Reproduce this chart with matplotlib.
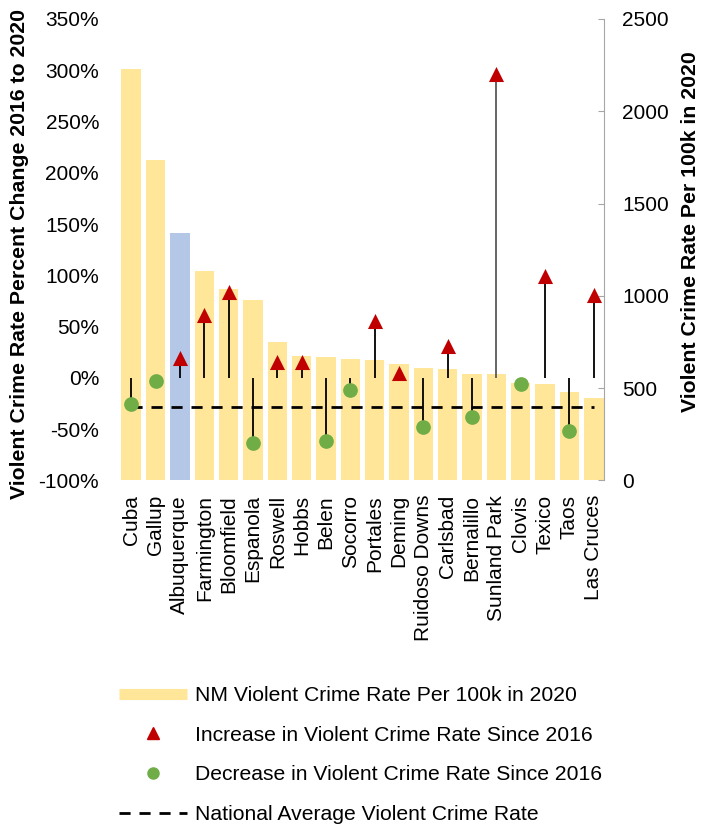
import matplotlib
matplotlib.use("Agg")
import matplotlib.pyplot as plt
from matplotlib.lines import Line2D
import numpy as np

plt.rcParams['font.family'] = ['Liberation Sans', 'DejaVu Sans']

cities = ["Cuba", "Gallup", "Albuquerque", "Farmington", "Bloomfield", "Espanola",
          "Roswell", "Hobbs", "Belen", "Socorro", "Portales", "Deming",
          "Ruidoso Downs", "Carlsbad", "Bernalillo", "Sunland Park", "Clovis",
          "Texico", "Taos", "Las Cruces"]
rate_2020 = [2229, 1737, 1340, 1134, 1037, 977, 749, 675, 666, 655, 650, 630,
             610, 605, 578, 574, 530, 522, 477, 448]
pct_change = [-25.3, -3.4, 19.5, 60.8, 83.9, -63.3, 15.7, 15.7, -61.3, -12.2,
              55.6, 4.4, -47.7, 30.7, -38.2, 296.2, -6.4, 99.5, -52.2, 80.8]
national_avg = 398.5

bar_color = "#FFE699"
abq_color = "#B4C7E7"
up_color = "#C00000"
down_color = "#70AD47"

W, H = 706, 825
fig = plt.figure(figsize=(W / 100, H / 100), dpi=100)
left_px, right_px, top_px, bot_px = 121, 604, 19, 480.3
ax2 = fig.add_axes([left_px / W, 1 - bot_px / H, (right_px - left_px) / W, (bot_px - top_px) / H])
ax = ax2.twinx()
# ax: percent axis shown on left; ax2: rate axis shown on right
ax.yaxis.set_label_position("left")
ax.yaxis.tick_left()
ax2.yaxis.set_label_position("right")
ax2.yaxis.tick_right()

x = np.arange(len(cities))
colors = [abq_color if c == "Albuquerque" else bar_color for c in cities]
ax2.bar(x, rate_2020, width=0.8, color=colors, zorder=1)
ax2.plot([0, len(cities) - 1], [national_avg, national_avg], color="black",
         lw=2, dashes=(4, 3.2), zorder=2)
ax2.set_ylim(0, 2500)
ax2.set_yticks(np.arange(0, 2501, 500))

pc = np.array(pct_change)
line_colors = ["#595959" if c == "Sunland Park" else "black" for c in cities]
ax.vlines(x, 0, pc, colors=line_colors, lw=1.3, zorder=2)
up = pc > 0
ax.scatter(x[up], pc[up], marker="^", s=118, color=up_color, zorder=3, linewidths=0)
ax.scatter(x[~up], pc[~up], marker="o", s=112, color=down_color, zorder=3, linewidths=0)
ax.set_ylim(-100, 350)
ax.set_yticks(np.arange(-100, 351, 50))
ax.set_yticklabels([f"{v}%" for v in range(-100, 351, 50)])
ax.set_xlim(-0.42, len(cities) - 1 + 0.42)

ax2.set_xticks(x)
ax2.set_xticklabels(cities, rotation=90, fontsize=15)
ax2.tick_params(axis="x", length=0, pad=10.5)

for s in ["top", "left", "bottom", "right"]:
    ax.spines[s].set_visible(False)
    ax2.spines[s].set_visible(False)
ax2.spines["right"].set_visible(True)
ax2.spines["right"].set_color("#A6A6A6")
ax2.tick_params(axis="y", direction="in", length=4, color="#A6A6A6",
                labelsize=15, pad=13)
ax.tick_params(axis="y", length=0, labelsize=15, pad=15.8)

ax.set_ylabel("Violent Crime Rate Percent Change 2016 to 2020", fontsize=15.3,
              fontweight="bold", labelpad=7)
ax2.set_ylabel("Violent Crime Rate Per 100k in 2020", fontsize=15.3,
               fontweight="bold", labelpad=9)
ax.yaxis.label.set_y(0.49)
ax2.yaxis.label.set_y(0.538)

handles = [
    Line2D([], [], color=bar_color, lw=8, solid_capstyle="butt"),
    Line2D([], [], color=up_color, marker="^", ls="none", markersize=9),
    Line2D([], [], color=down_color, marker="o", ls="none", markersize=8),
    Line2D([], [], color="black", lw=2, dashes=(4, 3.2)),
]
labels = ["NM Violent Crime Rate Per 100k in 2020",
          "Increase in Violent Crime Rate Since 2016",
          "Decrease in Violent Crime Rate Since 2016",
          "National Average Violent Crime Rate"]
fig.legend(handles, labels, loc="upper left", bbox_to_anchor=(119 / W, 1 - 686 / H),
           frameon=False, fontsize=15.2, handlelength=3.22, handletextpad=0.38,
           labelspacing=0.98, borderpad=0, borderaxespad=0)

fig.savefig("out.png", dpi=100)
